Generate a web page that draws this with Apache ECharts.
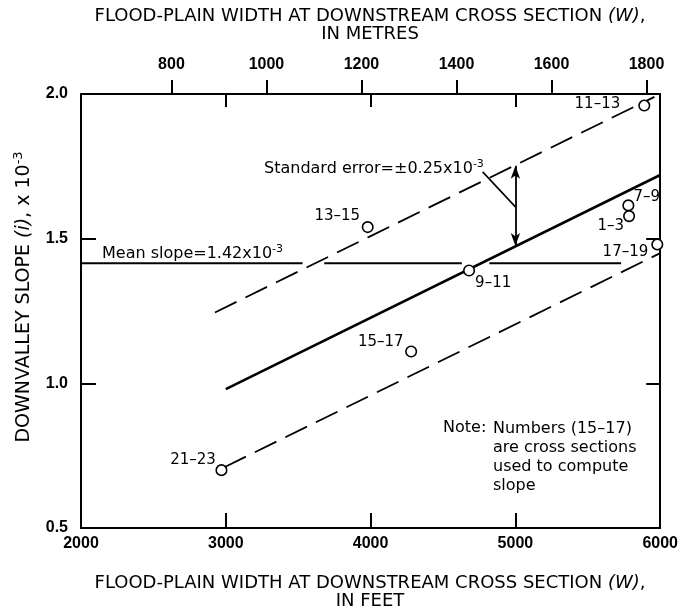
<!DOCTYPE html>
<html><head><meta charset="utf-8">
<script src="https://cdn.jsdelivr.net/npm/echarts@6/dist/echarts.min.js"></script>
<style>html,body{margin:0;padding:0;background:#fff}#c{width:681px;height:612px}</style>
</head><body><div id="c"></div>
<script>
// ---------- data ----------
const FT_PER_M = 3.2808;
const xTicks = [2000, 3000, 4000, 5000, 6000];          // feet
const yTicks = [0.5, 1.0, 1.5, 2.0];                    // slope x 10^-3
const metreTicks = [800, 1000, 1200, 1400, 1600, 1800]; // metres
const crossSections = ['11–13', '7–9', '1–3', '17–19', '13–15', '9–11', '21–23', '15–17'];
const widthFt = [5890, 5780, 5785, 5980, 3980, 4680, 2970, 4280];
const slopeVal = [1.96, 1.615, 1.578, 1.48, 1.54, 1.39, 0.70, 1.11];
const fitX = [3000, 6000];   const fitY = [0.98, 1.72];
const upperX = [2925, 5960]; const upperY = [1.245, 1.99];
const lowerX = [2990, 6000]; const lowerY = [0.71, 1.45];
const meanSlope = 1.415;
const meanSegments = [[2000, 3530], [3680, 4630], [4820, 5730]];
const seArrowX = 5000; const seArrowTop = 1.752; const seArrowBottom = 1.475;
const leaderX = [4774, 5000]; const leaderY = [1.731, 1.61];

// ---------- styles ----------
const INK = '#000';
const FONT = 'DejaVu Sans';
const TICKFONT = 'Liberation Sans';
// label placement per point: [position, dx, dy]
const labelPlace = [
  ['left', -18, -1], ['right', -1, -8], ['left', 1, 10.5], ['left', -3, 7.5],
  ['left', -1.5, -10.5], ['right', 0, 13], ['left', 0.5, -10.5], ['left', -1.5, -9]
];

const zip = (a, b) => a.map((v, i) => [v, b[i]]);
const chart = echarts.init(document.getElementById('c'), null, {renderer: 'canvas'});

const tickLabel = {fontFamily: TICKFONT, fontWeight: 'bold', fontSize: 16, color: INK};
const axisLineStyle = {color: INK, width: 2};

const series = [
  {type: 'line', data: zip(fitX, fitY), symbol: 'none', lineStyle: {color: INK, width: 2.6}, z: 3},
  {type: 'line', data: zip(upperX, upperY), symbol: 'none', lineStyle: {color: INK, width: 1.8, type: [24, 10]}, z: 3},
  {type: 'line', data: zip(lowerX, lowerY), symbol: 'none', lineStyle: {color: INK, width: 1.8, type: [24, 10]}, z: 3},
  ...meanSegments.map(s => ({type: 'line', data: s.map(x => [x, meanSlope]), symbol: 'none',
    lineStyle: {color: INK, width: 2}, z: 3})),
  {type: 'line', data: zip(leaderX, leaderY), symbol: 'none', lineStyle: {color: INK, width: 1.6}, z: 3,
    markLine: {silent: true, symbol: ['arrow', 'arrow'], symbolSize: [7, 13], label: {show: false},
      lineStyle: {color: INK, width: 1.8, type: 'solid'},
      data: [[{coord: [seArrowX, seArrowTop]}, {coord: [seArrowX, seArrowBottom]}]]}},
  {type: 'scatter', symbol: 'circle', symbolSize: 10.5, z: 5,
    itemStyle: {color: '#fff', borderColor: INK, borderWidth: 1.6, opacity: 1},
    data: widthFt.map((x, i) => ({
      value: [x, slopeVal[i]], name: crossSections[i],
      label: {show: true, formatter: crossSections[i], position: labelPlace[i][0], distance: 0,
        offset: [labelPlace[i][1], labelPlace[i][2]], fontFamily: FONT, fontSize: 15, color: INK, opacity: 1}
    }))}
];

const supRich = {sup: {fontSize: 11, fontFamily: FONT, verticalAlign: 'top', lineHeight: 11, fill: INK},
                 supY: {fontSize: 13, fontFamily: FONT, verticalAlign: 'top', lineHeight: 13, fill: INK},
                 it: {fontStyle: 'italic', fontFamily: FONT, fontSize: 18, fill: INK},
                 iy: {fontStyle: 'italic', fontFamily: FONT, fontSize: 19, fill: INK}};

chart.setOption({
  animation: false,
  backgroundColor: '#fff',
  grid: {left: 81, top: 94, width: 580, height: 434, containLabel: false},
  xAxis: [
    {type: 'value', position: 'bottom', min: xTicks[0], max: xTicks[xTicks.length - 1], interval: 1000,
      axisLine: {show: true, onZero: false, lineStyle: axisLineStyle},
      axisTick: {show: true, inside: true, length: 15, lineStyle: axisLineStyle},
      axisLabel: Object.assign({show: true, margin: 8, showMinLabel: true, showMaxLabel: true,
        formatter: v => String(v)}, tickLabel),
      splitLine: {show: false}},
    {type: 'value', position: 'top', min: xTicks[0], max: xTicks[xTicks.length - 1], interval: 1000,
      axisLine: {show: true, onZero: false, lineStyle: axisLineStyle},
      axisTick: {show: true, inside: true, length: 13, lineStyle: axisLineStyle},
      axisLabel: {show: false}, splitLine: {show: false}},
    {type: 'value', position: 'top', min: xTicks[0] / FT_PER_M, max: xTicks[xTicks.length - 1] / FT_PER_M,
      axisLine: {show: false, onZero: false},
      axisTick: {show: true, inside: false, length: 14, customValues: metreTicks, lineStyle: axisLineStyle},
      axisLabel: Object.assign({show: true, margin: 21, customValues: metreTicks,
        formatter: v => String(Math.round(v))}, tickLabel),
      splitLine: {show: false}}
  ],
  yAxis: [
    {type: 'value', position: 'left', min: yTicks[0], max: yTicks[yTicks.length - 1], interval: 0.5,
      axisLine: {show: true, onZero: false, lineStyle: axisLineStyle},
      axisTick: {show: true, inside: true, length: 15, lineStyle: axisLineStyle},
      axisLabel: Object.assign({show: true, margin: 13, formatter: v => v.toFixed(1)}, tickLabel),
      splitLine: {show: false}},
    {type: 'value', position: 'right', min: yTicks[0], max: yTicks[yTicks.length - 1], interval: 0.5,
      axisLine: {show: true, onZero: false, lineStyle: axisLineStyle},
      axisTick: {show: true, inside: true, length: 14, lineStyle: axisLineStyle},
      axisLabel: {show: false}, splitLine: {show: false}}
  ],
  series: series,
  graphic: [
    {type: 'text', x: 370, y: 25, style: {
      text: 'FLOOD-PLAIN WIDTH AT DOWNSTREAM CROSS SECTION {it|(W)},\nIN METRES',
      fontFamily: FONT, fontSize: 18, lineHeight: 18, fill: INK, align: 'center', verticalAlign: 'middle',
      rich: supRich}},
    {type: 'text', x: 370, y: 592, style: {
      text: 'FLOOD-PLAIN WIDTH AT DOWNSTREAM CROSS SECTION {it|(W)},\nIN FEET',
      fontFamily: FONT, fontSize: 18, lineHeight: 18, fill: INK, align: 'center', verticalAlign: 'middle',
      rich: supRich}},
    {type: 'text', x: 24, y: 297, rotation: Math.PI / 2, style: {
      text: 'DOWNVALLEY SLOPE {iy|(i)}, x 10{supY|-3}',
      fontFamily: FONT, fontSize: 19, lineHeight: 23, fill: INK, align: 'center', verticalAlign: 'middle',
      rich: supRich}},
    {type: 'text', x: 102, y: 254, style: {
      text: 'Mean slope=1.42x10{sup|-3}',
      fontFamily: FONT, fontSize: 16, lineHeight: 20, fill: INK, align: 'left', verticalAlign: 'middle',
      rich: supRich}},
    {type: 'text', x: 264, y: 169, style: {
      text: 'Standard error=±0.25x10{sup|-3}',
      fontFamily: FONT, fontSize: 16, lineHeight: 20, fill: INK, align: 'left', verticalAlign: 'middle',
      rich: supRich}},
    {type: 'text', x: 443, y: 428, style: {
      text: 'Note:', fontFamily: FONT, fontSize: 16, fill: INK, align: 'left', verticalAlign: 'middle'}},
    {type: 'text', x: 493, y: 419, style: {
      text: 'Numbers (15–17)\nare cross sections\nused to compute\nslope',
      fontFamily: FONT, fontSize: 16, lineHeight: 19, fill: INK, align: 'left', verticalAlign: 'top'}}
  ]
});
</script></body></html>
